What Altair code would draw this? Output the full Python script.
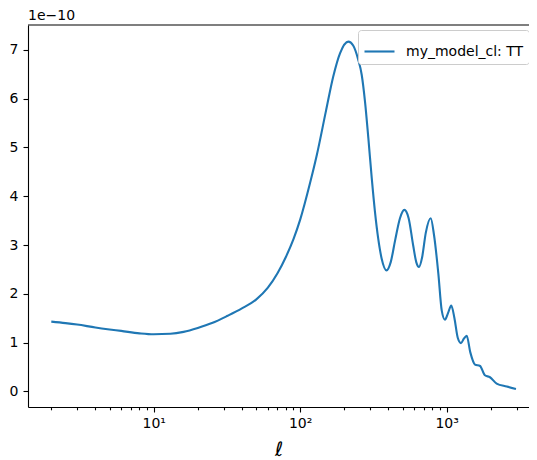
import altair as alt
import pandas as pd

# multipole ell and C_ell^TT (in units of 1e-10)
ell = [2, 2.5, 3, 4, 5, 6, 8, 10, 13, 16, 20, 25, 32, 40, 50, 60, 70, 80, 90,
       100, 117, 130, 150, 168, 187, 213, 230, 249, 263, 277, 292, 308, 324,
       341, 360, 389, 415, 445, 480, 514, 550, 590, 620, 647, 680, 720, 778,
       820, 877, 925, 973, 1020, 1075, 1130, 1190, 1253, 1310, 1370, 1450,
       1561, 1690, 1824, 1975, 2194, 2570, 2972]
cl_tt_1e10 = [1.43, 1.40, 1.37, 1.31, 1.27, 1.24, 1.19, 1.17, 1.18, 1.22, 1.30,
              1.40, 1.55, 1.70, 1.88, 2.12, 2.42, 2.76, 3.12,
              3.52, 4.28, 4.85, 5.75, 6.45, 6.93, 7.17, 7.09, 6.80, 6.49, 5.94,
              5.19, 4.37, 3.68, 3.13, 2.72, 2.48,
              2.65, 3.10, 3.55, 3.72, 3.55, 3.00, 2.65, 2.55, 2.75, 3.25, 3.55,
              3.20, 2.42, 1.66, 1.47, 1.60, 1.76, 1.50, 1.10, 0.99, 1.08, 1.14,
              0.80, 0.55, 0.52, 0.33, 0.29, 0.16, 0.10, 0.05]
series_name = "my_model_cl: TT"
x_ticks = [2, 3, 4, 5, 6, 7, 8, 9, 10, 20, 30, 40, 50, 60, 70, 80, 90, 100,
           200, 300, 400, 500, 600, 700, 800, 900, 1000, 2000, 3000]
y_ticks = [0, 1, 2, 3, 4, 5, 6, 7]
offset_label = ["1e−10"]

df = pd.DataFrame({"ell": ell, "cl": cl_tt_1e10, "series": series_name})
one = pd.DataFrame({"t": offset_label})

W, H = 501, 382
FONT = "DejaVu Sans"

line = alt.Chart(df).mark_line(interpolate="monotone", strokeWidth=2.1).encode(
    x=alt.X("ell:Q",
            scale=alt.Scale(type="log", domain=[10 ** 0.142, 10 ** 3.562], nice=False),
            axis=alt.Axis(values=x_ticks,
                          labelExpr="datum.value == 10 ? '10¹' : datum.value == 100 ? '10²' : datum.value == 1000 ? '10³' : ''",
                          tickSize={"condition": {"test": "datum.value == 10 || datum.value == 100 || datum.value == 1000", "value": 5}, "value": 2.8},
                          grid=False, domainColor="black", tickColor="black",
                          domainWidth=1.1, tickWidth=1.1,
                          labelColor="black", labelFont=FONT, labelFontSize=14,
                          labelPadding=4, labelFlush=False, labelOverlap=False,
                          title="ℓ", titleFont=FONT, titleFontSize=20,
                          titleFontStyle="italic", titleFontWeight="normal",
                          titleColor="black", titlePadding=9)),
    y=alt.Y("cl:Q",
            scale=alt.Scale(domain=[-0.32, 7.51], nice=False, zero=False),
            axis=alt.Axis(values=y_ticks, format="d", grid=False,
                          domainColor="black", tickColor="black",
                          domainWidth=1.1, tickWidth=1.1, tickSize=5,
                          labelColor="black", labelFont=FONT, labelFontSize=14,
                          labelPadding=5, title=None)),
    color=alt.Color("series:N",
                    scale=alt.Scale(range=["#1f77b4"]),
                    legend=alt.Legend(orient="none", legendX=330, legendY=5,
                                      title=None, symbolType="stroke",
                                      symbolSize=900, symbolStrokeWidth=2.1,
                                      labelFont=FONT, labelFontSize=14,
                                      labelColor="black", labelOffset=10,
                                      padding=5, strokeColor="#cccccc",
                                      fillColor="white", cornerRadius=3)),
)

top_spine = alt.Chart(one).mark_rule(color="black", strokeWidth=1.1).encode(
    x=alt.value(0), x2=alt.value(W), y=alt.value(0)
)

offset_text = alt.Chart(one).mark_text(
    align="left", baseline="middle", font=FONT, fontSize=14, color="black"
).encode(x=alt.value(0), y=alt.value(-9), text="t:N")

chart = alt.layer(line, top_spine, offset_text).properties(
    width=W, height=H,
    autosize=alt.AutoSizeParams(type="none"),
    padding={"left": 20, "top": 17, "right": 0, "bottom": 53},
    background="white",
).configure_view(stroke=None)

chart.save("out.html", embed_options={"renderer": "svg", "actions": False})
